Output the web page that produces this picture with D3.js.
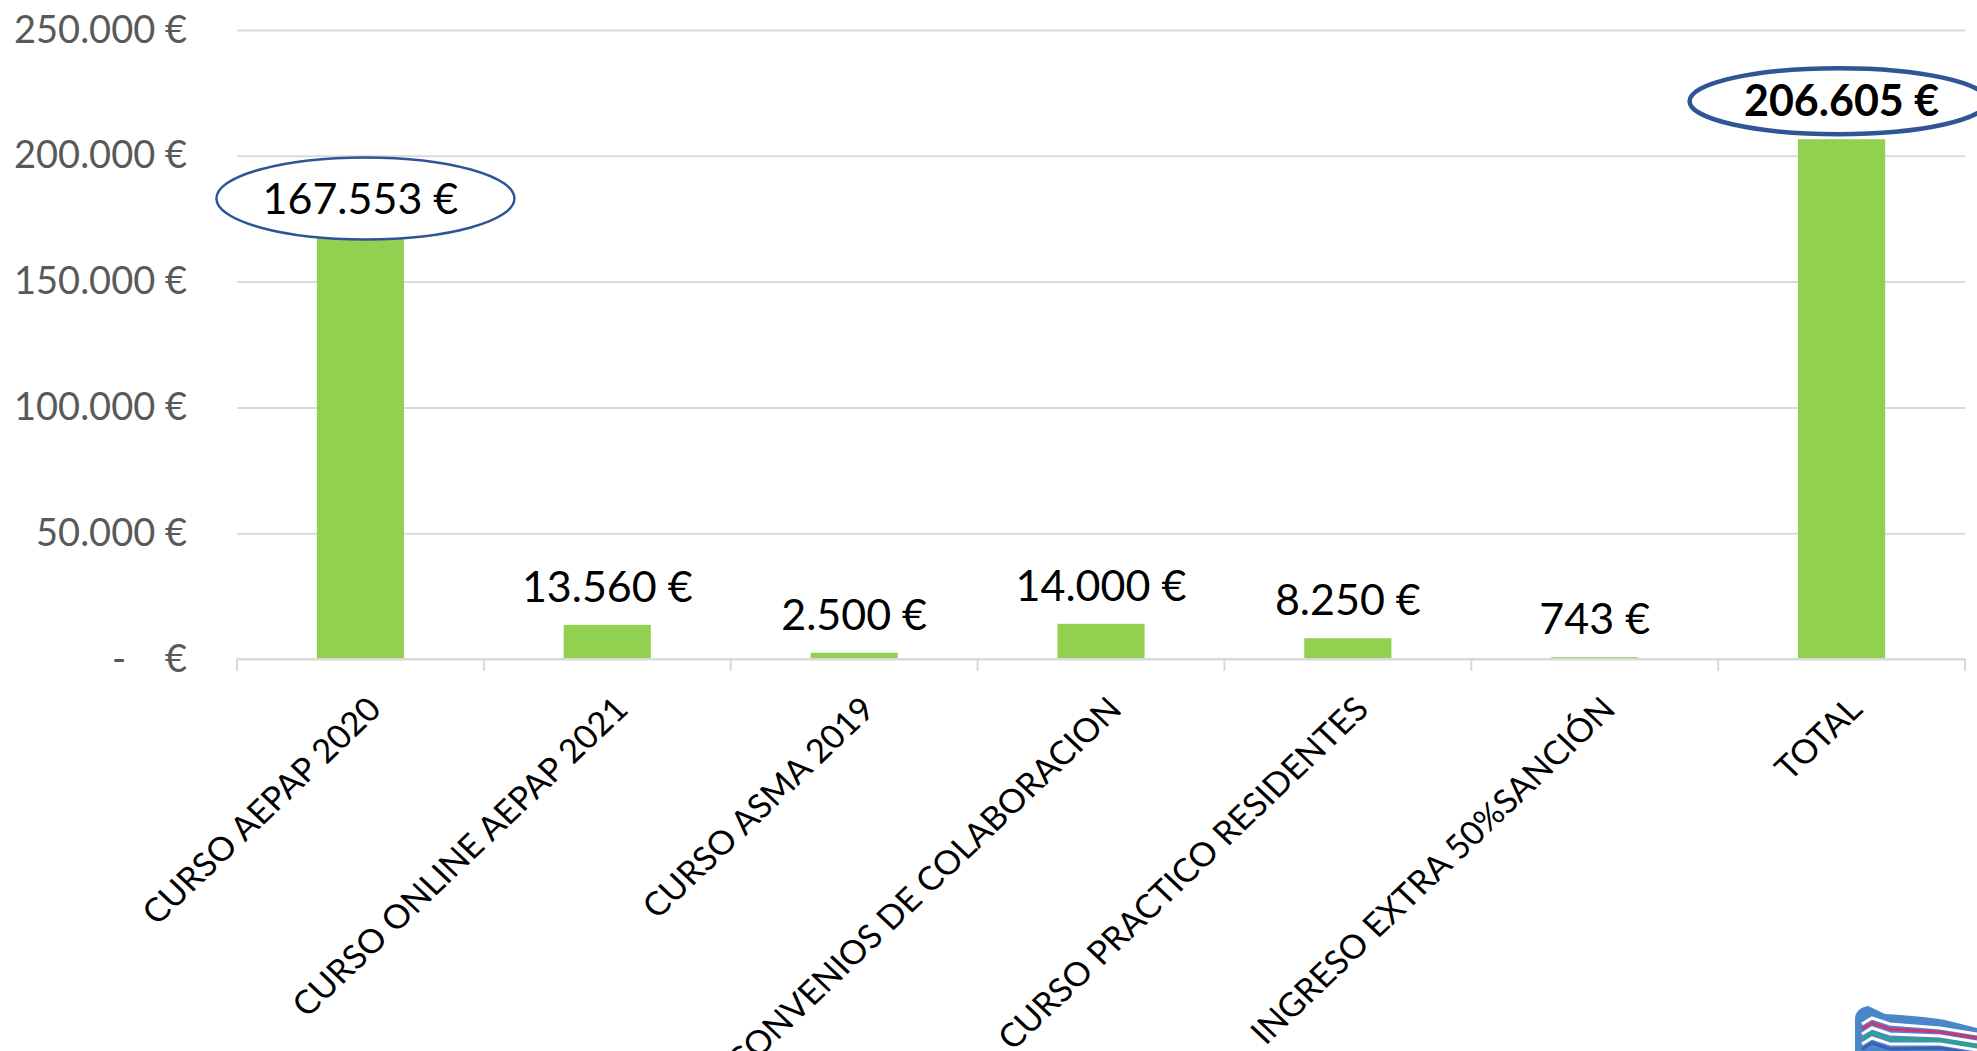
<!DOCTYPE html>
<html>
<head>
<meta charset="utf-8">
<script src="https://cdn.jsdelivr.net/npm/d3@7"></script>
<style>
  body { margin: 0; background: #fff; }
  svg { display: block; }
  .tick text { white-space: pre; }
</style>
</head>
<body>
<script>
const categories = ["CURSO AEPAP 2020", "CURSO ONLINE AEPAP 2021", "CURSO ASMA 2019",
  "CONVENIOS DE COLABORACION", "CURSO PRACTICO RESIDENTES", "INGRESO EXTRA 50%SANCIÓN", "TOTAL"];
const values = [167553, 13560, 2500, 14000, 8250, 743, 206605];
const valueLabels = ["167.553 €", "13.560 €", "2.500 €", "14.000 €", "8.250 €", "743 €", "206.605 €"];
const yTicks = [0, 50000, 100000, 150000, 200000, 250000];
const yTickLabels = ["-    €", "50.000 €", "100.000 €", "150.000 €", "200.000 €", "250.000 €"];
const circled = ["CURSO AEPAP 2020", "TOTAL"];

const width = 1977;
const height = 1051;
const margin = {top: 30, right: 12, bottom: 392, left: 237};
const font = "Lato, 'Open Sans', sans-serif";

const svg = d3.select("body").append("svg")
  .attr("width", width)
  .attr("height", height);

const xscale = d3.scaleBand()
  .domain(categories)
  .range([margin.left, width - margin.right])
  .paddingInner(0.647)
  .paddingOuter(0.3235);

const step = (width - margin.right - margin.left) / categories.length;

const yscale = d3.scaleLinear()
  .domain([0, 250000])
  .range([height - margin.bottom, margin.top]);

// gridlines + y labels
const yaxis = d3.axisLeft(yscale)
  .tickValues(yTicks)
  .tickSize(-(width - margin.right - margin.left))
  .tickPadding(50)
  .tickFormat((d, i) => yTickLabels[i]);

svg.append("g")
  .attr("transform", `translate(${margin.left}, 0)`)
  .call(yaxis)
  .call(g => g.select(".domain").remove())
  .call(g => g.selectAll(".tick line").attr("stroke", "#d9d9d9").attr("stroke-width", 2))
  .call(g => g.selectAll(".tick text")
    .attr("fill", "#595959")
    .attr("font-family", font)
    .attr("font-size", "38px"));

// bars
svg.selectAll("rect.bar")
  .data(values)
  .enter()
  .append("rect")
  .attr("class", "bar")
  .attr("x", (d, i) => xscale(categories[i]))
  .attr("y", d => yscale(d))
  .attr("width", xscale.bandwidth())
  .attr("height", d => yscale(0) - yscale(d))
  .attr("fill", "#92d050");

// x axis line and category separators
const y0 = yscale(0);
svg.append("line")
  .attr("x1", margin.left).attr("x2", width - margin.right)
  .attr("y1", y0).attr("y2", y0)
  .attr("stroke", "#d9d9d9").attr("stroke-width", 2);

svg.selectAll("line.sep")
  .data(d3.range(categories.length + 1))
  .enter()
  .append("line")
  .attr("class", "sep")
  .attr("x1", i => margin.left + i * step)
  .attr("x2", i => margin.left + i * step)
  .attr("y1", y0)
  .attr("y2", y0 + 12)
  .attr("stroke", "#d9d9d9").attr("stroke-width", 2);

// category labels, rotated
svg.selectAll("text.cat")
  .data(categories)
  .enter()
  .append("text")
  .attr("class", "cat")
  .attr("transform", d => `translate(${xscale(d) + xscale.bandwidth() / 2 + 14}, ${y0 + 44}) scale(1.05, 1) rotate(-45)`)
  .attr("text-anchor", "end")
  .attr("dy", "0.35em")
  .attr("font-family", font)
  .attr("font-size", "33px")
  .attr("fill", "#000")
  .text(d => d);

// ellipses around highlighted labels
svg.selectAll("ellipse.hl")
  .data(circled)
  .enter()
  .append("ellipse")
  .attr("class", "hl")
  .attr("cx", d => xscale(d) + xscale.bandwidth() / 2 + (d === "TOTAL" ? -3 : 5))
  .attr("cy", d => yscale(values[categories.indexOf(d)]) - (d === "TOTAL" ? 38 : 39))
  .attr("rx", 149)
  .attr("ry", d => d === "TOTAL" ? 33 : 41)
  .attr("fill", "#fff")
  .attr("stroke", "#2f5597")
  .attr("stroke-width", d => d === "TOTAL" ? 4.5 : 2.5);

// data labels
svg.selectAll("text.val")
  .data(values)
  .enter()
  .append("text")
  .attr("class", "val")
  .attr("x", (d, i) => xscale(categories[i]) + xscale.bandwidth() / 2)
  .attr("y", d => yscale(d) - 38)
  .attr("dy", "0.35em")
  .attr("text-anchor", "middle")
  .attr("font-family", font)
  .attr("font-size", "43px")
  .attr("font-weight", (d, i) => categories[i] === "TOTAL" ? "bold" : "normal")
  .attr("fill", "#000")
  .text((d, i) => valueLabels[i]);

// small logo fragment in the bottom right corner
const logo = svg.append("g");
logo.append("path")
  .attr("d", "M1855,1051 L1855,1018 Q1856,1008 1868,1006 L1885,1014 Q1920,1016 1945,1020 L1977,1028 L1977,1051 Z")
  .attr("fill", "#4a86c8");
const stripes = ["#ffffff", "#d6307a", "#ffffff", "#2aa58a", "#ffffff", "#3b5fb0"];
stripes.forEach((c, i) => {
  logo.append("path")
    .attr("d", `M1862,${1024 + i * 5} L1872,${1018 + i * 5} L1890,${1024 + i * 5} L1940,${1028 + i * 4} L1977,${1034 + i * 4}`)
    .attr("fill", "none")
    .attr("stroke", c)
    .attr("stroke-width", 3);
});
</script>
</body>
</html>
